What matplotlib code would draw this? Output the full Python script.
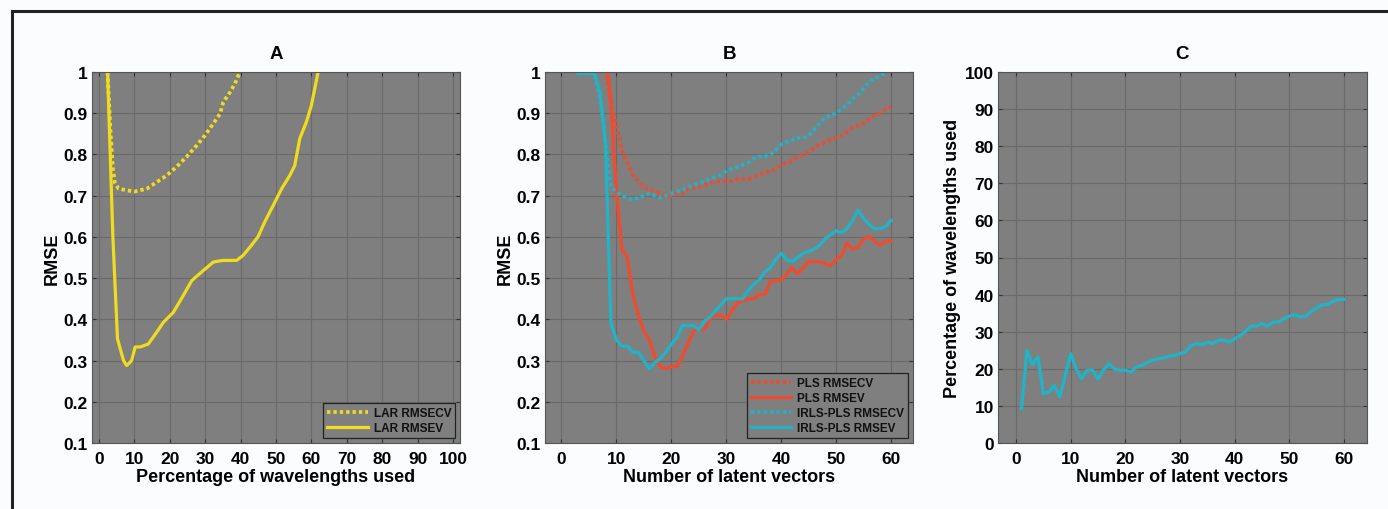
import numpy as np
import matplotlib
matplotlib.use("Agg")
import matplotlib.pyplot as plt
from matplotlib.lines import Line2D

plt.rcParams['font.family'] = ['Liberation Sans', 'DejaVu Sans']
plt.rcParams['font.weight'] = 'bold'

# Panel A - LAR
lar_cv_x = [2.4, 3.2, 3.9, 4.5, 5.5, 7.8, 10.0, 13.5, 16.3, 19.1, 21.9, 24.7, 27.6, 29.9,
            32.3, 34.2, 35.1, 37.0, 38.4, 39.4, 39.8]
lar_cv_y = [1.0, 0.86, 0.765, 0.73, 0.717, 0.713, 0.71, 0.717, 0.733, 0.749, 0.77, 0.794,
            0.822, 0.846, 0.875, 0.899, 0.927, 0.951, 0.972, 0.992, 1.0]
lar_v_x = [2.4, 3.9, 5.2, 6.9, 7.8, 9.2, 10.2, 11.6, 13.9, 16.3, 18.2, 21.0, 23.8, 26.2,
           29.0, 32.3, 35.0, 38.9, 40.7, 43.0, 44.9, 46.8, 49.2, 51.6, 53.9, 55.3, 56.7,
           58.6, 60.0, 61.9]
lar_v_y = [1.0, 0.60, 0.353, 0.30, 0.288, 0.30, 0.333, 0.333, 0.34, 0.369, 0.393, 0.417,
           0.458, 0.494, 0.515, 0.539, 0.543, 0.543, 0.555, 0.579, 0.60, 0.636, 0.676,
           0.717, 0.749, 0.773, 0.838, 0.879, 0.919, 1.0]

# Panel B - PLS vs IRLS-PLS
n_lv = np.arange(1, 61)
nan = np.nan
pls_cv = [nan, nan, nan, nan, nan, nan, 1.2, 1.02, 0.92, 0.87, 0.81, 0.78, 0.75, 0.735, 0.72,
          0.715, 0.71, 0.705, 0.70, 0.70, 0.705, 0.705, 0.715, 0.72, 0.72, 0.725, 0.73,
          0.735, 0.735, 0.735, 0.735, 0.74, 0.74, 0.74, 0.745, 0.75, 0.755, 0.76, 0.765,
          0.775, 0.78, 0.785, 0.795, 0.80, 0.805, 0.815, 0.825, 0.83, 0.835, 0.84, 0.845,
          0.855, 0.865, 0.87, 0.875, 0.885, 0.895, 0.90, 0.91, 0.915]
pls_v = [nan, nan, nan, nan, nan, nan, 1.3, 1.05, 0.93, 0.71, 0.57, 0.55, 0.46, 0.41, 0.37,
         0.35, 0.31, 0.285, 0.28, 0.285, 0.285, 0.31, 0.34, 0.37, 0.38, 0.375, 0.40, 0.41,
         0.41, 0.40, 0.42, 0.44, 0.445, 0.45, 0.45, 0.46, 0.46, 0.49, 0.495, 0.495, 0.51,
         0.525, 0.51, 0.525, 0.54, 0.54, 0.54, 0.535, 0.53, 0.545, 0.555, 0.585, 0.57,
         0.575, 0.595, 0.60, 0.59, 0.58, 0.59, 0.59]
irls_cv = [nan, nan, 0.997, 0.997, 0.997, 0.997, 0.94, 0.83, 0.72, 0.71, 0.70, 0.695, 0.69,
           0.695, 0.70, 0.705, 0.70, 0.695, 0.70, 0.705, 0.71, 0.715, 0.72, 0.725, 0.73,
           0.735, 0.74, 0.745, 0.75, 0.76, 0.765, 0.77, 0.775, 0.78, 0.79, 0.795, 0.795,
           0.80, 0.81, 0.825, 0.83, 0.835, 0.84, 0.84, 0.845, 0.86, 0.875, 0.89, 0.895,
           0.90, 0.91, 0.92, 0.935, 0.945, 0.96, 0.975, 0.985, 0.99, 1.0, 1.01]
irls_v = [nan, nan, 0.997, 0.997, 0.997, 0.997, 0.95, 0.83, 0.39, 0.35, 0.335, 0.335, 0.32,
          0.32, 0.30, 0.28, 0.295, 0.305, 0.32, 0.34, 0.355, 0.385, 0.385, 0.385, 0.375,
          0.395, 0.405, 0.42, 0.435, 0.45, 0.45, 0.45, 0.45, 0.47, 0.485, 0.495, 0.515,
          0.525, 0.545, 0.56, 0.545, 0.54, 0.55, 0.56, 0.565, 0.57, 0.58, 0.595, 0.605,
          0.615, 0.61, 0.62, 0.64, 0.665, 0.645, 0.63, 0.62, 0.62, 0.625, 0.64]

# Panel C - wavelengths used by IRLS-PLS
pct_used = [9.3, 25.0, 21.0, 23.2, 13.3, 13.7, 15.5, 12.4, 18.2, 24.1, 20.0, 17.3, 19.6,
            19.6, 17.3, 19.6, 21.4, 20.0, 19.6, 19.6, 19.1, 20.5, 20.9, 21.7, 22.3, 22.7,
            22.9, 23.4, 23.6, 24.1, 24.5, 26.3, 26.8, 26.5, 27.2, 26.8, 27.7, 27.7, 27.2,
            28.1, 29.0, 30.1, 31.5, 31.5, 32.2, 31.5, 32.6, 32.6, 33.5, 34.2, 34.6, 34.0,
            34.2, 35.5, 36.4, 37.3, 37.3, 38.2, 38.7, 38.7]

yellow = '#f0dc1e'
red = '#f24a2c'
cyan = '#1fb4c8'
bg = '#7f7f7f'
dots = (0, (0.9, 0.8))
lw = 2.3
lw_dot = 2.7

fig = plt.figure(figsize=(13.88, 5.10), dpi=100)
fig.patch.set_facecolor('#fbfcfe')

W, H = 1388, 510
def make_ax(left, right):
    ax = fig.add_axes([left / W, 1 - 444 / H, (right - left) / W, (444 - 73) / H])
    ax.set_facecolor(bg)
    ax.grid(True, color='#6a6a6a', linewidth=0.8)
    ax.set_axisbelow(True)
    ax.tick_params(direction='in', top=True, right=True, length=3, width=0.8,
                   color='#333333', labelsize=12.5)
    ax.tick_params(axis='x', pad=6)
    ax.tick_params(axis='y', pad=3)
    for sp in ax.spines.values():
        sp.set_color('#555555')
        sp.set_linewidth(0.8)
    return ax

axA = make_ax(92, 460)
axA.plot(lar_cv_x, lar_cv_y, color=yellow, lw=lw_dot, linestyle=dots, label='LAR RMSECV')
axA.plot(lar_v_x, lar_v_y, color=yellow, lw=lw, label='LAR RMSEV')
axA.set_xlim(-2, 102)
axA.set_ylim(0.1, 1)
axA.set_xticks(np.arange(0, 101, 10))
axA.set_yticks(np.arange(0.1, 1.01, 0.1))
axA.set_yticklabels(['0.1', '0.2', '0.3', '0.4', '0.5', '0.6', '0.7', '0.8', '0.9', '1'])
axA.set_xlabel('Percentage of wavelengths used', fontsize=13, fontweight='bold', labelpad=1)
axA.set_ylabel('RMSE', fontsize=13, fontweight='bold', labelpad=2)
axA.set_title('A', fontsize=13.5, fontweight='bold', pad=10)

axB = make_ax(545, 913)
axB.plot(n_lv, pls_cv, color=red, lw=lw_dot, linestyle=dots, label='PLS RMSECV')
axB.plot(n_lv, pls_v, color=red, lw=lw, label='PLS RMSEV')
axB.plot(n_lv, irls_cv, color=cyan, lw=lw_dot, linestyle=dots, label='IRLS-PLS RMSECV')
axB.plot(n_lv, irls_v, color=cyan, lw=lw, label='IRLS-PLS RMSEV')
axB.set_xlim(-3, 64)
axB.set_ylim(0.1, 1)
axB.set_xticks(np.arange(0, 61, 10))
axB.set_yticks(np.arange(0.1, 1.01, 0.1))
axB.set_yticklabels(['0.1', '0.2', '0.3', '0.4', '0.5', '0.6', '0.7', '0.8', '0.9', '1'])
axB.set_xlabel('Number of latent vectors', fontsize=13, fontweight='bold', labelpad=1)
axB.set_ylabel('RMSE', fontsize=13, fontweight='bold', labelpad=2)
axB.set_title('B', fontsize=13.5, fontweight='bold', pad=10)

axC = make_ax(998, 1367)
axC.plot(n_lv, pct_used, color=cyan, lw=lw)
axC.set_xlim(-3.3, 64.2)
axC.set_ylim(0, 100)
axC.set_xticks(np.arange(0, 61, 10))
axC.set_yticks(np.arange(0, 101, 10))
axC.set_xlabel('Number of latent vectors', fontsize=13, fontweight='bold', labelpad=1)
axC.set_ylabel('Percentage of wavelengths used', fontsize=13, fontweight='bold', labelpad=3)
axC.set_title('C', fontsize=13.5, fontweight='bold', pad=10)

for ax in (axA, axB, axC):
    for lab in ax.get_xticklabels() + ax.get_yticklabels():
        lab.set_fontweight('bold')

for ax in (axA, axB):
    leg = ax.legend(loc='lower right', fontsize=8.5, frameon=True, fancybox=False,
                    borderaxespad=0.4, handlelength=3.4, labelspacing=0.25,
                    borderpad=0.35, handletextpad=0.5)
    leg.get_frame().set_facecolor(bg)
    leg.get_frame().set_edgecolor('#222222')
    leg.get_frame().set_linewidth(0.9)
    leg.get_frame().set_alpha(1)
    for t in leg.get_texts():
        t.set_fontweight('bold')
        t.set_color('#111111')

# outer frame lines (top and left)
fig.add_artist(Line2D([11.5 / W, 1], [1 - 11.5 / H, 1 - 11.5 / H], color='#222222', lw=2.2))
fig.add_artist(Line2D([11.5 / W, 11.5 / W], [0, 1 - 11.5 / H], color='#222222', lw=2.2))

fig.savefig('out.png', dpi=100, facecolor=fig.get_facecolor())
